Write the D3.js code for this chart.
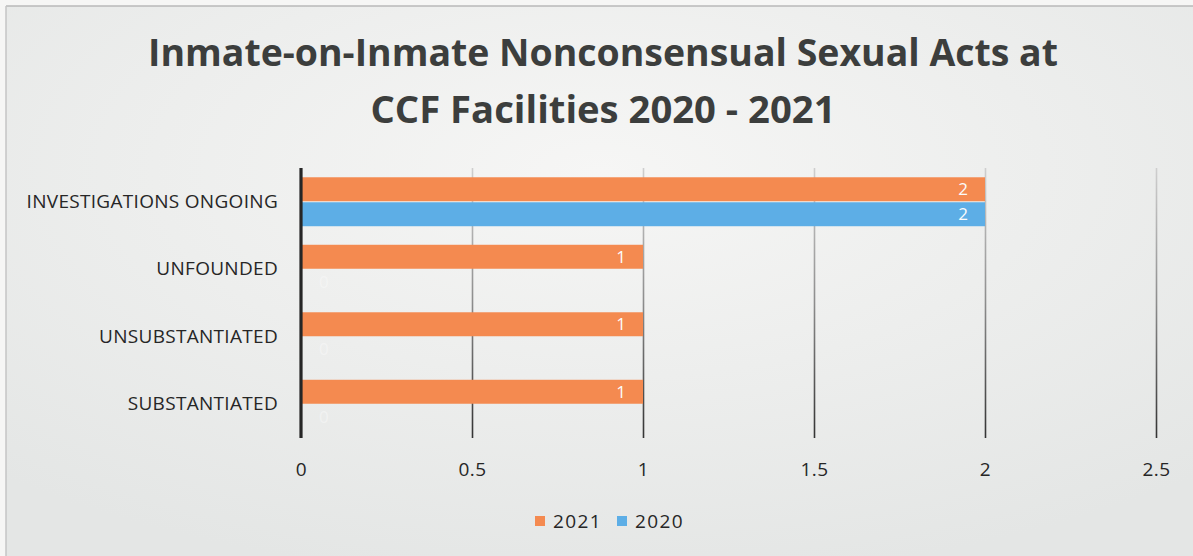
<!DOCTYPE html>
<html>
<head>
<meta charset="utf-8">
<script src="https://cdn.jsdelivr.net/npm/d3@7"></script>
<style>
  html, body { margin: 0; padding: 0; background: #f4f4f3; }
  svg { display: block; }
</style>
</head>
<body>
<svg id="chart" width="1193" height="556"></svg>
<script>
// ---- data ----
const categories = ["INVESTIGATIONS ONGOING", "UNFOUNDED", "UNSUBSTANTIATED", "SUBSTANTIATED"];
const seriesNames = ["2021", "2020"];
const values2021 = [2, 1, 1, 1];
const values2020 = [2, 0, 0, 0];
const xTicks = [0, 0.5, 1, 1.5, 2, 2.5];
const titleLines = ["Inmate-on-Inmate Nonconsensual Sexual Acts at", "CCF Facilities 2020 - 2021"];
const colors = { "2021": "#F48A50", "2020": "#5DAEE6" };

const W = 1193, H = 556;
const FONT = "'Open Sans', 'DejaVu Sans', sans-serif";
const svg = d3.select("#chart");
const defs = svg.append("defs");

// background (scanned paper look)
const bg = defs.append("radialGradient").attr("id", "bg")
  .attr("cx", "50%").attr("cy", "30%").attr("r", "75%");
bg.append("stop").attr("offset", "0%").attr("stop-color", "#f6f6f5");
bg.append("stop").attr("offset", "100%").attr("stop-color", "#e4e6e5");
svg.append("rect").attr("width", W).attr("height", H).attr("fill", "#f6f6f5");
svg.append("rect").attr("x", 6).attr("y", 6).attr("width", W - 6).attr("height", H - 6)
  .attr("fill", "url(#bg)");
svg.append("line").attr("x1", 6).attr("x2", W).attr("y1", 6).attr("y2", 6)
  .attr("stroke", "#b8b8b8").attr("stroke-width", 1.5);
svg.append("line").attr("x1", 6).attr("x2", 6).attr("y1", 6).attr("y2", H)
  .attr("stroke", "#c4c4c4").attr("stroke-width", 1.5);

// title
const title = svg.append("g").attr("font-family", FONT)
  .attr("font-weight", 700).attr("fill", "#3c3e3d").attr("text-anchor", "middle");
title.append("text").attr("x", 603).attr("y", 66).attr("font-size", 38)
  .attr("textLength", 910).attr("lengthAdjust", "spacingAndGlyphs").text(titleLines[0]);
title.append("text").attr("x", 603).attr("y", 123).attr("font-size", 38)
  .attr("textLength", 465).attr("lengthAdjust", "spacingAndGlyphs").text(titleLines[1]);

// scales
const plotTop = 168, plotBottom = 438;
const x = d3.scaleLinear().domain([0, 2.5]).range([301, 1156]);
const y0 = d3.scaleBand().domain(categories).range([plotTop, plotBottom]).paddingInner(0.26).paddingOuter(0.13);
const y1 = d3.scaleBand().domain(seriesNames).range([0, y0.bandwidth()]).padding(0);

// gridlines with scan-like gradient (local coords run from -(plotBottom-plotTop) to 0)
const gg = defs.append("linearGradient").attr("id", "gridGrad")
  .attr("gradientUnits", "userSpaceOnUse").attr("x1", 0).attr("x2", 0)
  .attr("y1", -(plotBottom - plotTop)).attr("y2", 0);
gg.append("stop").attr("offset", "0%").attr("stop-color", "#cfcfcf");
gg.append("stop").attr("offset", "50%").attr("stop-color", "#8c8c8c");
gg.append("stop").attr("offset", "100%").attr("stop-color", "#333333");

const gridAxis = d3.axisBottom(x).tickValues(xTicks.slice(1))
  .tickSize(-(plotBottom - plotTop)).tickFormat("");
const grid = svg.append("g").attr("transform", `translate(0,${plotBottom})`).call(gridAxis);
grid.select(".domain").remove();
grid.selectAll("line").attr("stroke", "url(#gridGrad)").attr("stroke-width", 1.6);

// bars
const rows = categories.map((c, i) => ({ cat: c, vals: [
  { s: "2021", v: values2021[i] }, { s: "2020", v: values2020[i] } ] }));

const groups = svg.append("g").selectAll("g").data(rows).join("g")
  .attr("transform", d => `translate(0,${y0(d.cat)})`);
groups.selectAll("rect").data(d => d.vals).join("rect")
  .attr("x", x(0)).attr("y", d => y1(d.s) + 0.5)
  .attr("width", d => x(d.v) - x(0)).attr("height", y1.bandwidth() - 1)
  .attr("fill", d => colors[d.s]);
groups.selectAll("text").data(d => d.vals).join("text")
  .attr("x", d => x(d.v) - (d.v === 0 ? -18 : 22))
  .attr("y", d => y1(d.s) + y1.bandwidth() / 2 + 6)
  .attr("text-anchor", d => d.v === 0 ? "start" : "middle")
  .attr("font-family", FONT)
  .attr("font-size", 17).attr("fill", "#fbfbfb")
  .attr("opacity", d => d.v === 0 ? 0.45 : 1)
  .text(d => d.v);

// category axis
const yAxis = d3.axisLeft(y0).tickSize(0).tickPadding(23);
const ya = svg.append("g").attr("transform", `translate(${x(0)},0)`).call(yAxis);
ya.select(".domain").remove();
ya.selectAll("text").attr("font-family", FONT)
  .attr("font-size", 19).attr("letter-spacing", "0.3px").attr("fill", "#262626");

// zero line
svg.append("line").attr("x1", x(0)).attr("x2", x(0)).attr("y1", plotTop).attr("y2", plotBottom)
  .attr("stroke", "#262626").attr("stroke-width", 3.2);

// value axis labels
const xAxis = d3.axisBottom(x).tickValues(xTicks).tickSize(0).tickPadding(25)
  .tickFormat(d => String(d));
const xa = svg.append("g").attr("transform", `translate(0,${plotBottom})`).call(xAxis);
xa.select(".domain").remove();
xa.selectAll("text").attr("font-family", FONT)
  .attr("font-size", 19).attr("letter-spacing", "0.5px").attr("fill", "#262626");

// legend
const legend = svg.append("g").attr("font-family", FONT)
  .attr("font-size", 19).attr("letter-spacing", "1.4px").attr("fill", "#262626");
const legendX = [535, 617];
seriesNames.forEach((s, i) => {
  legend.append("rect").attr("x", legendX[i]).attr("y", 516).attr("width", 10).attr("height", 10)
    .attr("fill", colors[s]);
  legend.append("text").attr("x", legendX[i] + 18).attr("y", 528).text(s);
});
</script>
</body>
</html>
